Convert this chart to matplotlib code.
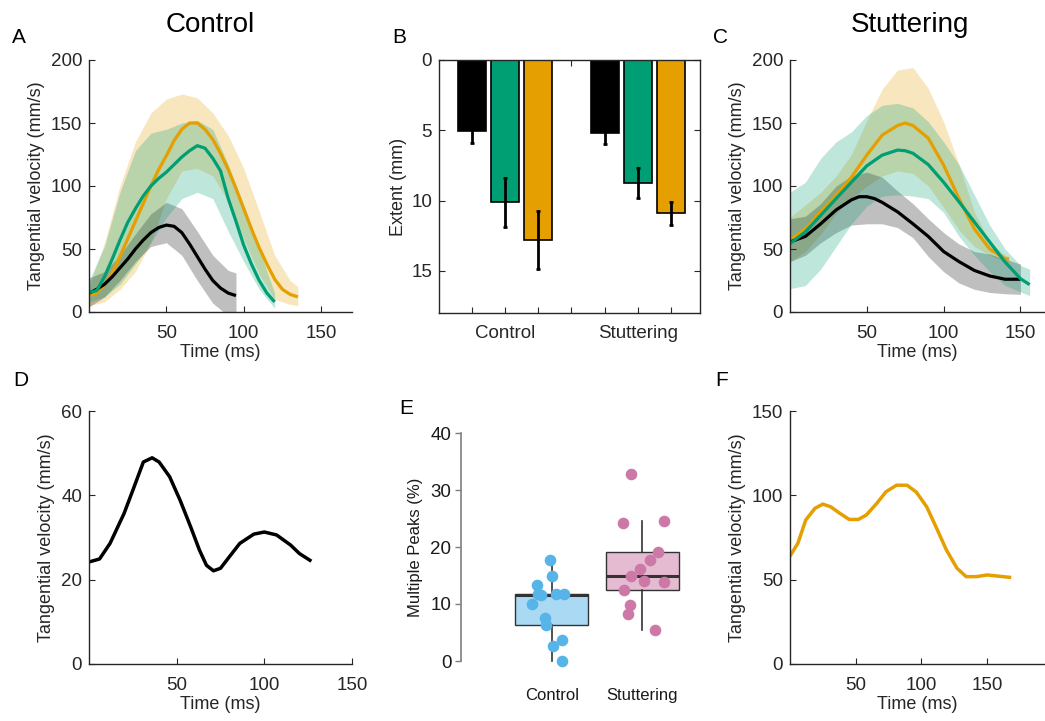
import matplotlib
matplotlib.use("Agg")
import matplotlib.pyplot as plt
import numpy as np

plt.rcParams['font.family'] = ['Liberation Sans', 'DejaVu Sans']

BLACK = '#000000'
GREEN = '#009E73'
ORANGE = '#E69F00'
AXC = '#262626'

# ---- panel A (control) ----
a_t_black = [0, 5, 10, 15, 20, 25, 30, 35, 40, 45, 50, 55, 60, 65, 70, 75, 80, 85, 90, 95]
a_black = [15, 18, 22, 28, 35, 42, 50, 57, 63, 67, 69, 68, 63, 54, 44, 34, 25, 19, 15, 13]
a_tb_black = [0, 10, 20, 30, 40, 50, 60, 70, 80, 90, 95]
a_black_up = [27, 32, 45, 62, 78, 87, 82, 64, 45, 33, 31]
a_black_lo = [4, 12, 25, 40, 52, 55, 45, 25, 7, -3, -5]

a_t_green = [0, 5, 10, 15, 20, 25, 30, 35, 40, 45, 50, 55, 60, 65, 70, 75, 80, 85, 90, 95, 100, 105, 110, 115, 120]
a_green = [15.5, 17, 28, 42, 57, 71, 82, 92, 100, 106, 111, 117, 123, 128, 132, 130, 122, 112, 90, 72, 53, 38, 25, 15, 8]
a_tb_green = [0, 10, 20, 30, 40, 50, 60, 70, 80, 90, 100, 110, 120]
a_green_up = [25, 52, 95, 128, 142, 145, 150, 152, 145, 117, 85, 50, 15]
a_green_lo = [8, 12, 22, 38, 55, 75, 90, 95, 90, 64, 40, 18, 3]

a_t_orange = [0, 5, 10, 15, 20, 25, 30, 35, 40, 45, 50, 55, 60, 65, 70, 75, 80, 85, 90, 95, 100, 105, 110, 115, 120, 125, 130, 135]
a_orange = [13, 15, 22, 31, 44, 58, 72, 86, 100, 113, 124, 136, 145, 150, 150, 145, 137, 126, 113, 98, 82, 66, 51, 38, 26, 18, 14, 12]
a_tb_orange = [0, 10, 20, 30, 40, 50, 60, 70, 80, 90, 100, 110, 120, 130, 135]
a_orange_up = [20, 55, 100, 135, 158, 169, 173, 170, 158, 140, 114, 80, 45, 25, 20]
a_orange_lo = [5, 8, 18, 32, 55, 90, 112, 114, 108, 88, 58, 30, 10, 6, 5]

# ---- panel C (stuttering) ----
c_t_black = [0, 10, 20, 30, 40, 45, 50, 55, 60, 70, 80, 90, 100, 110, 120, 130, 140, 150]
c_black = [55.6, 60, 70, 81, 89, 91.5, 91.5, 90, 87, 79.5, 70, 60, 48, 40, 33, 28.6, 26, 26]
c_tb_black = [0, 10, 20, 30, 40, 50, 60, 70, 80, 90, 100, 110, 120, 130, 140, 150]
c_black_up = [74, 76, 86, 100, 108, 111, 107, 96, 86, 74, 63, 54, 48, 46, 42, 38]
c_black_lo = [40, 45, 55, 63, 69, 70, 70, 67, 59, 44, 32, 23, 18, 15.5, 14.5, 14]

c_t_green = [0, 10, 20, 30, 40, 50, 60, 70, 75, 80, 90, 100, 110, 120, 130, 140, 150, 156]
c_green = [54.3, 63.6, 76.8, 90, 103, 116, 124.5, 128.5, 128, 126, 117, 103, 87.5, 71.5, 55.6, 39.7, 26.5, 21.7]
c_tb_green = [0, 10, 20, 30, 40, 50, 60, 70, 80, 90, 100, 110, 120, 130, 140, 150, 156]
c_green_up = [95, 103, 122, 135, 143, 156, 164, 165.6, 162, 151, 135, 117, 93, 69, 50, 37, 34]
c_green_lo = [18.5, 21, 34, 52, 70, 84, 92, 93, 92, 90, 79, 60, 45, 32, 21, 16, 13]

c_t_orange = [0, 10, 20, 30, 40, 50, 60, 70, 75, 80, 90, 100, 110, 120, 130, 140, 142.5]
c_orange = [57, 66, 79.5, 92.7, 107, 124.5, 140.4, 148, 150, 148, 138, 116.6, 90, 66, 50, 42.4, 42]
c_tb_orange = [0, 10, 20, 30, 40, 50, 60, 70, 80, 90, 100, 110, 120, 130, 140, 142.5]
c_orange_up = [75, 85, 95, 108, 125, 152, 177, 192, 194, 177.5, 151, 117, 79.5, 55.6, 45, 44]
c_orange_lo = [40, 48, 62, 78, 90, 100, 108, 112, 110, 100, 83, 65, 52, 45, 40, 40]

# ---- panel B (extent) ----
groups = ['Control', 'Stuttering']
ext_black = [5.06, 5.17]
ext_green = [10.13, 8.76]
ext_orange = [12.82, 10.92]
err_black = [0.87, 0.83]
err_green = [1.72, 1.08]
err_orange = [2.07, 0.85]

# ---- panel D (single control trial) ----
d_t = [0, 6, 12, 20, 25, 31, 36, 40, 46, 52, 58, 63, 67, 71, 75, 80, 86, 94, 100, 107, 115, 120, 126]
d_v = [24.2, 24.9, 28.6, 35.7, 41.2, 47.9, 48.9, 47.9, 44.4, 38.8, 32.5, 27, 23.4, 22.1, 22.7, 25.4,
       28.6, 30.8, 31.3, 30.6, 28.2, 26.2, 24.6]

# ---- panel E (multiple peaks) ----
ctrl_peaks = [17.7, 14.9, 13.3, 11.8, 11.6, 11.7, 11.7, 10.0, 7.6, 6.3, 2.7, 3.7, 0.0]
ctrl_jit = [-0.02, 0.0, -0.16, -0.15, -0.12, 0.05, 0.14, -0.22, -0.07, -0.06, 0.01, 0.11, 0.11]
stut_peaks = [32.8, 24.2, 24.5, 19.2, 17.7, 16.1, 14.95, 14.07, 13.84, 12.5, 9.8, 8.3, 5.4]
stut_jit = [-0.13, -0.21, 0.24, 0.17, 0.08, -0.03, -0.12, 0.02, 0.24, -0.2, -0.14, -0.16, 0.14]

# ---- panel F (single stuttering trial) ----
f_t = [0, 6, 12, 19, 25, 31, 38, 45, 52, 58, 66, 73, 81, 89, 96, 104, 111, 119, 127, 134, 142, 150, 157, 167]
f_v = [64, 71.6, 85.4, 92.3, 94.8, 93.2, 89.3, 85.7, 85.7, 88.3, 95.2, 102.1, 106, 106, 102, 93.2, 81.4,
       67.6, 56.8, 51.8, 51.8, 52.8, 52.2, 51.4]

W, H = 1045, 721
fig = plt.figure(figsize=(W / 100, H / 100), dpi=100)


def add_ax(l, t, r, b):
    return fig.add_axes([l / W, 1 - b / H, (r - l) / W, (b - t) / H])


def matlab_style(ax, box=False):
    for s in ['left', 'bottom', 'top', 'right']:
        ax.spines[s].set_color(AXC)
        ax.spines[s].set_linewidth(1.0)
    if not box:
        ax.spines['top'].set_visible(False)
        ax.spines['right'].set_visible(False)
    ax.tick_params(direction='in', length=4, width=0.8, color=AXC, labelcolor=AXC,
                   labelsize=13.5, top=box, right=box)
    ax.tick_params(axis='x', pad=9)
    ax.tick_params(axis='y', pad=5)
    ax.set_facecolor('none')


def shaded(ax, t, y, tb, up, lo, col):
    ax.fill_between(tb, lo, up, color=col, alpha=0.25, linewidth=0)
    ax.plot(t, y, color=col, lw=2.3, solid_capstyle='butt')


def velocity_panel(ax, xlim, data):
    for t, y, tb, up, lo, col in data:
        shaded(ax, t, y, tb, up, lo, col)
    ax.set_xlim(*xlim)
    ax.set_ylim(0, 200)
    ax.set_xticks([50, 100, 150])
    ax.set_yticks([0, 50, 100, 150, 200])
    ax.set_xlabel('Time (ms)', fontsize=13, color=AXC, labelpad=2)
    ax.set_ylabel('Tangential velocity (mm/s)', fontsize=13, color=AXC, labelpad=4)
    matlab_style(ax)


# A
axA = add_ax(89, 60, 352, 312)
velocity_panel(axA, (0, 170), [
    (a_t_orange, a_orange, a_tb_orange, a_orange_up, a_orange_lo, ORANGE),
    (a_t_black, a_black, a_tb_black, a_black_up, a_black_lo, BLACK),
    (a_t_green, a_green, a_tb_green, a_green_up, a_green_lo, GREEN),
])

# C
axC = add_ax(790, 60, 1045, 312)
velocity_panel(axC, (0, 166), [
    (c_t_orange, c_orange, c_tb_orange, c_orange_up, c_orange_lo, ORANGE),
    (c_t_black, c_black, c_tb_black, c_black_up, c_black_lo, BLACK),
    (c_t_green, c_green, c_tb_green, c_green_up, c_green_lo, GREEN),
])

fig.text(210 / W, 1 - 32 / H, 'Control', fontsize=20, ha='center', va='baseline')
fig.text(910 / W, 1 - 32 / H, 'Stuttering', fontsize=20, ha='center', va='baseline')

# B
axB = add_ax(439, 60, 700, 313)
pos = np.array([1, 5])
for k, (vals, errs, col) in enumerate([(ext_black, err_black, BLACK),
                                        (ext_green, err_green, GREEN),
                                        (ext_orange, err_orange, ORANGE)]):
    axB.bar(pos + k, vals, width=0.84, color=col, edgecolor='black', linewidth=1.2, zorder=2)
    axB.errorbar(pos + k, vals, yerr=errs, fmt='none', ecolor='black', elinewidth=2,
                 capsize=1.5, capthick=2, zorder=3)
axB.set_xlim(0.02, 7.87)
axB.set_ylim(18, 0)
axB.set_yticks([0, 5, 10, 15])
axB.set_xticks([1, 2, 3, 4, 5, 6, 7])
axB.set_xticklabels(['', groups[0], '', '', '', groups[1], ''])
axB.set_ylabel('Extent (mm)', fontsize=13, color=AXC, labelpad=3)
matlab_style(axB, box=True)

# D
axD = add_ax(89, 411, 352, 664)
axD.plot(d_t, d_v, color=BLACK, lw=2.5)
axD.set_xlim(0, 150)
axD.set_ylim(0, 60)
axD.set_xticks([50, 100, 150])
axD.set_yticks([0, 20, 40, 60])
axD.set_xlabel('Time (ms)', fontsize=13, color=AXC, labelpad=2)
axD.set_ylabel('Tangential velocity (mm/s)', fontsize=13, color=AXC, labelpad=4)
matlab_style(axD)

# E
axE = add_ax(461, 421.6, 733, 672.4)
axE.set_facecolor('none')
bp = axE.boxplot([ctrl_peaks, stut_peaks], positions=[1, 2], widths=0.8, patch_artist=True,
                 showfliers=False, showcaps=False, whis=1.5,
                 medianprops=dict(color='#333333', lw=2.2),
                 whiskerprops=dict(color='#333333', lw=1.2),
                 boxprops=dict(edgecolor='#333333', lw=1.0))
for patch, col in zip(bp['boxes'], ['#56B4E9', '#CC79A7']):
    patch.set_facecolor(matplotlib.colors.to_rgba(col, 0.5))
axE.scatter(1 + np.array(ctrl_jit), ctrl_peaks, s=70, color='#56B4E9', zorder=4, linewidths=0)
axE.scatter(2 + np.array(stut_jit), stut_peaks, s=70, color='#CC79A7', zorder=4, linewidths=0)
axE.set_xlim(0, 3)
axE.set_ylim(-2, 42)
axE.set_yticks([0, 10, 20, 30, 40])
axE.set_xticks([1, 2])
axE.set_xticklabels(groups, fontsize=12)
for s in ['top', 'right', 'bottom']:
    axE.spines[s].set_visible(False)
axE.spines['left'].set_color('#7f7f7f')
axE.spines['left'].set_linewidth(1.2)
axE.spines['left'].set_bounds(0, 40)
axE.tick_params(axis='y', direction='out', length=4, width=1.0, color='#7f7f7f',
                labelsize=13.5, labelcolor='#1a1a1a', pad=3)
axE.tick_params(axis='x', length=0, pad=11, labelcolor='#1a1a1a')
axE.set_ylabel('Multiple Peaks (%)', fontsize=12, color='#1a1a1a', labelpad=5)

# F (drawn after E so its label stays on top)
axF = add_ax(790, 411, 1045, 664)
axF.plot(f_t, f_v, color=ORANGE, lw=2.5)
axF.set_xlim(0, 194)
axF.set_ylim(0, 150)
axF.set_xticks([50, 100, 150])
axF.set_yticks([0, 50, 100, 150])
axF.set_xlabel('Time (ms)', fontsize=13, color=AXC, labelpad=2)
axF.set_ylabel('Tangential velocity (mm/s)', fontsize=13, color=AXC, labelpad=4)
matlab_style(axF)

# panel letters
for lab, x, y in [('A', 12, 43), ('B', 392, 43), ('C', 713, 43),
                  ('D', 13, 386), ('E', 399, 414), ('F', 715, 386)]:
    fig.text(x / W, 1 - y / H, lab, fontsize=15, ha='left', va='baseline', color='black')

fig.savefig('out.png', dpi=100)
